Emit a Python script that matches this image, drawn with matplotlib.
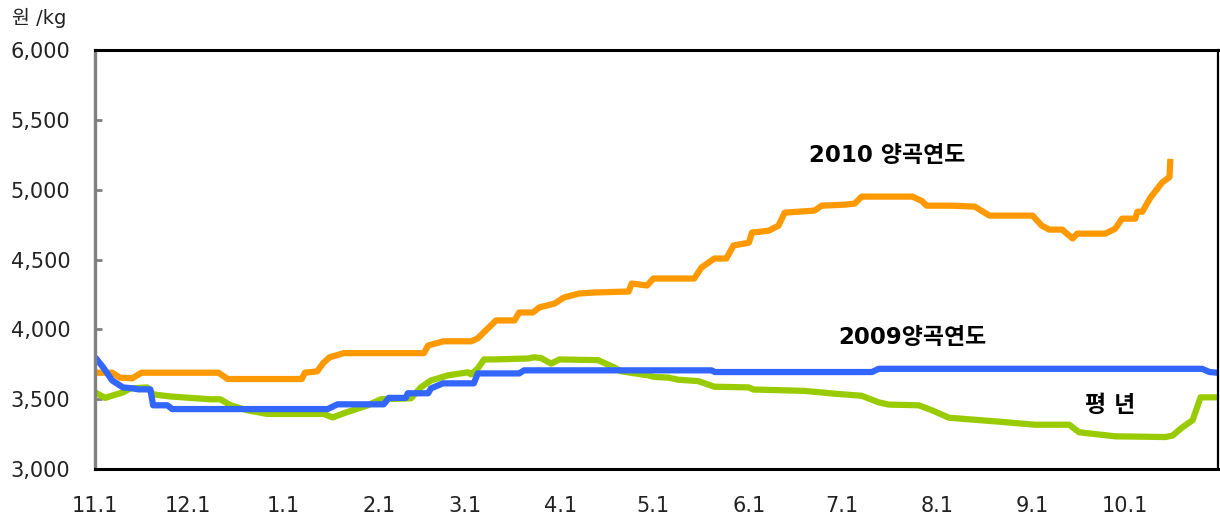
import matplotlib
matplotlib.use("Agg")
import matplotlib.pyplot as plt

plt.rcParams['font.family'] = ['DejaVu Sans', 'Noto Sans CJK KR']

# day offset from Nov 1 and price (원/kg)
days_2010 = [0, 5.5, 8, 12, 15, 40, 43, 67, 68, 72, 74, 76, 80.6, 106.6, 108, 113, 122, 124, 130,
             136, 137.5, 142, 144, 149, 152, 157, 162, 173, 174, 179, 181, 190, 194.3, 196.6,
             200.8, 204.7, 207, 212, 213, 218.4, 221.6, 223.6, 233.3, 235.6, 243, 246.3, 248.6,
             265, 268, 269.7, 278, 285.3, 290, 304, 307, 309.4, 313.6, 317, 318.5, 327.6, 330.8,
             333, 337.3, 338, 339.6, 342.2, 346, 348.4, 348.7]
price_2010 = [3690, 3690, 3655, 3650, 3690, 3690, 3645, 3645, 3690, 3700, 3760, 3800, 3830, 3830,
              3885, 3915, 3915, 3935, 4064, 4064, 4121, 4121, 4157, 4185, 4228, 4257, 4264, 4271,
              4328, 4314, 4364, 4364, 4364, 4442, 4507, 4507, 4600, 4620, 4692, 4706, 4742, 4835,
              4850, 4885, 4892, 4900, 4950, 4950, 4920, 4885, 4885, 4878, 4814, 4814, 4742, 4714,
              4714, 4650, 4685, 4685, 4720, 4792, 4792, 4842, 4842, 4942, 5050, 5090, 5220]

days_2009 = [0, 2.6, 5.5, 9, 12.3, 14, 17.9, 18.8, 23.4, 25, 75.4, 78.6, 93.6, 95.2, 100.7,
             101.4, 108, 108.9, 112.8, 122.8, 124.1, 137.5, 139.1, 199.9, 201, 251.9, 254.1,
             359, 361.4, 364]
price_2009 = [3800, 3728, 3635, 3585, 3578, 3571, 3571, 3457, 3457, 3430, 3430, 3464, 3464, 3510,
              3510, 3543, 3543, 3578, 3614, 3614, 3685, 3685, 3707, 3707, 3695, 3695, 3718, 3718,
              3695, 3690]

days_avg = [0, 3.2, 5.8, 9.1, 11.4, 16.9, 18.8, 24.4, 30.9, 37.4, 40.6, 43.9, 49.4, 55.9, 74.1,
            77, 80.6, 88.4, 92.6, 102.4, 105.6, 108.9, 114.4, 120.9, 121.9, 124.1, 126.1, 129.3,
            140.4, 142.3, 144.6, 147.9, 150.5, 163.1, 168.3, 170.6, 179.4, 181.3, 185.9, 189.1,
            195.6, 200.8, 211.9, 213.5, 230.1, 239.8, 248.6, 254.1, 257.4, 267.1, 271.4, 276.9,
            293.1, 304.8, 315.9, 319.1, 330.8, 347.1, 349.4, 352.6, 355.9, 358.5, 361.4, 364]
price_avg = [3550, 3510, 3528, 3550, 3578, 3585, 3535, 3520, 3510, 3500, 3500, 3457, 3421, 3395,
             3395, 3370, 3400, 3457, 3500, 3507, 3585, 3635, 3671, 3693, 3678, 3721, 3785, 3785,
             3792, 3800, 3795, 3755, 3785, 3780, 3728, 3700, 3671, 3660, 3655, 3640, 3630, 3590,
             3585, 3570, 3560, 3540, 3525, 3478, 3462, 3457, 3421, 3368, 3340, 3318, 3318, 3264,
             3235, 3230, 3240, 3300, 3350, 3514, 3514, 3514]

month_days = [0, 30, 61, 92, 120, 151, 181, 212, 242, 273, 304, 334]
month_labels = ['11.1', '12.1', '1.1', '2.1', '3.1', '4.1', '5.1', '6.1', '7.1', '8.1', '9.1', '10.1']
y_ticks = [3000, 3500, 4000, 4500, 5000, 5500, 6000]

fig = plt.figure(figsize=(12.2, 5.19), dpi=100)
ax = fig.add_axes([0.078, 0.096, 0.92, 0.808])

ax.plot(days_avg, price_avg, color='#99CC00', lw=4.5, solid_capstyle='butt')
ax.plot(days_2010, price_2010, color='#FF9900', lw=4.5, solid_capstyle='butt')
ax.plot(days_2009, price_2009, color='#3366FF', lw=4.5, solid_capstyle='butt')

ax.set_xlim(0, 364)
ax.set_ylim(3000, 6000)
ax.set_yticks(y_ticks)
ax.set_yticklabels([f'{v:,}' for v in y_ticks], fontsize=15, color='#222222')
ax.set_xticks(month_days)
ax.set_xticklabels(month_labels, fontsize=15, color='#222222')
ax.tick_params(axis='y', direction='in', length=5, width=2, color='#808080', pad=18)
ax.tick_params(axis='x', length=0, pad=19)

for side in ['top', 'bottom']:
    ax.spines[side].set_linewidth(2.2)
    ax.spines[side].set_color('black')
ax.spines['right'].set_linewidth(1.6)
ax.spines['left'].set_linewidth(2.4)
ax.spines['left'].set_color('#808080')

ax.text(257, 5242, '2010 양곡연도', fontsize=16.5, fontweight='bold', ha='center', va='center')
ax.text(265, 3942, '2009양곡연도', fontsize=16.5, fontweight='bold', ha='center', va='center')
ax.text(329, 3457, '평 년', fontsize=16.5, fontweight='bold', ha='center', va='center')
fig.text(0.01, 0.965, '원 /kg', fontsize=14, ha='left', va='center', color='#222222')

fig.savefig('out.png', dpi=100)
